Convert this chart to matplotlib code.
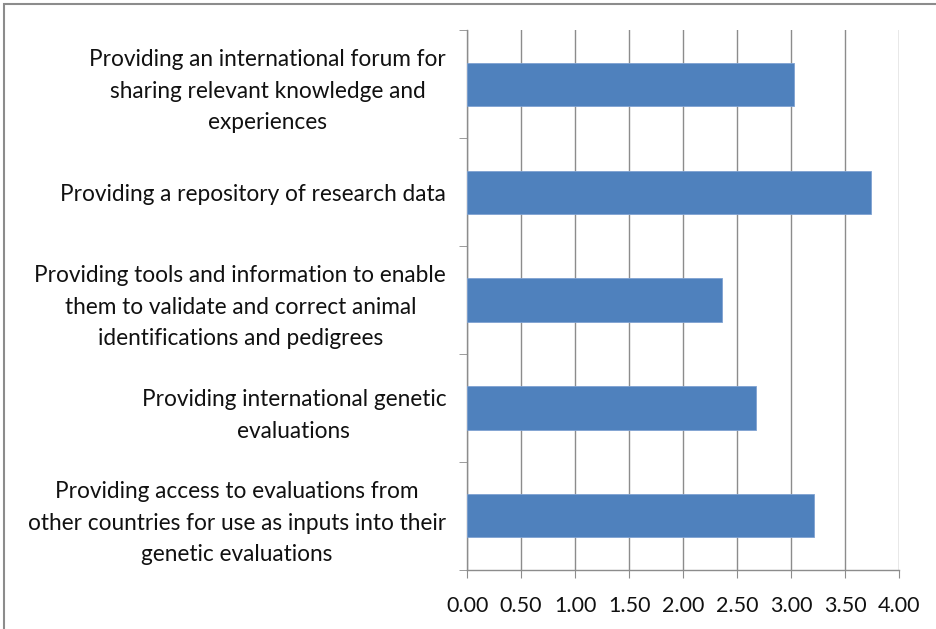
import numpy as np
import matplotlib.pyplot as plt
from matplotlib.patches import Rectangle

# Data (top to bottom as in the chart)
labels = [
    "Providing an international forum for\nsharing relevant knowledge and\nexperiences",
    "Providing a repository of research data",
    "Providing tools and information to enable\nthem to validate and correct animal\nidentifications and pedigrees",
    "Providing international genetic\nevaluations",
    "Providing access to evaluations from\nother countries for use as inputs into their\ngenetic evaluations",
]
values = [3.03, 3.74, 2.36, 2.68, 3.21]
xticks = [0.0, 0.5, 1.0, 1.5, 2.0, 2.5, 3.0, 3.5, 4.0]

plt.rcParams['font.family'] = ['Lato', 'DejaVu Sans']

fig = plt.figure(figsize=(9.36, 6.29), dpi=100)
ax = fig.add_axes([0.499, 0.094, 0.4615, 0.858])

y = np.arange(len(values))[::-1]
ax.barh(y, values, height=0.4, color='#4F81BD', edgecolor='#7FA2D2', linewidth=0.6, zorder=3)

ax.set_xlim(0, 4)
ax.set_ylim(-0.5, len(values) - 0.5)
ax.set_xticks(xticks)
ax.set_xticklabels([f"{t:.2f}" for t in xticks], fontsize=15.5, color='#111111')
ax.xaxis.grid(True, color='#8c8c8c', linewidth=1.0, zorder=0)

ax.set_yticks(y)
ax.set_yticklabels(labels, fontsize=16.3, color='#111111', linespacing=1.62,
                   multialignment='center')
ax.tick_params(axis='y', which='major', length=0, pad=15)
ax.set_yticks(np.arange(len(values) + 1) - 0.5, minor=True)
ax.tick_params(axis='y', which='minor', length=6, color='#8c8c8c', direction='out')
ax.tick_params(axis='x', length=6, color='#8c8c8c', direction='out', pad=13)

for s in ['top', 'right']:
    ax.spines[s].set_visible(False)
for s in ['left', 'bottom']:
    ax.spines[s].set_color('#8c8c8c')
    ax.spines[s].set_linewidth(1.0)

# outer chart border (clipped at right and bottom in the original)
fig.patches.append(Rectangle((4 / 936, -0.05), 1.2, 1 - 4 / 629 + 0.05,
                             transform=fig.transFigure, fill=False,
                             edgecolor='#8c8c8c', linewidth=1.5))

fig.savefig('out.png', dpi=100)
